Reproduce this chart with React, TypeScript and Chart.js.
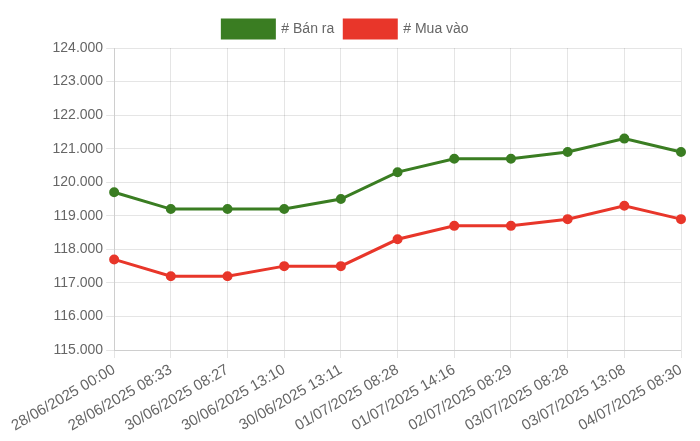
import React, { useEffect, useRef } from 'react';
import { Chart, registerables } from 'chart.js';

Chart.register(...registerables);

const labels = [
    '28/06/2025 00:00',
    '28/06/2025 08:33',
    '30/06/2025 08:27',
    '30/06/2025 13:10',
    '30/06/2025 13:11',
    '01/07/2025 08:28',
    '01/07/2025 14:16',
    '02/07/2025 08:29',
    '03/07/2025 08:28',
    '03/07/2025 13:08',
    '04/07/2025 08:30',
];

const banRa = [119700, 119200, 119200, 119200, 119500, 120300, 120700, 120700, 120900, 121300, 120900];
const muaVao = [117700, 117200, 117200, 117500, 117500, 118300, 118700, 118700, 118900, 119300, 118900];

const GREEN = '#3a7d22';
const RED = '#e8362a';

function App() {
    const chartRef = useRef<HTMLCanvasElement | null>(null);
    const chartInstance = useRef<Chart | null>(null);

    useEffect(() => {
        document.body.style.margin = '0';
        if (chartRef.current) {
            if (chartInstance.current) {
                chartInstance.current.destroy();
            }
            const ctx = chartRef.current.getContext('2d');
            if (ctx) {
                Chart.defaults.font.family = '"Liberation Sans", Arial, sans-serif';
                Chart.defaults.font.size = 14;
                Chart.defaults.color = '#666';
                chartInstance.current = new Chart(ctx, {
                    type: 'line',
                    data: {
                        labels,
                        datasets: [
                            {
                                label: '# Bán ra',
                                data: banRa,
                                borderColor: GREEN,
                                backgroundColor: GREEN,
                                borderWidth: 3,
                                pointRadius: 3.5,
                                tension: 0,
                            },
                            {
                                label: '# Mua vào',
                                data: muaVao,
                                borderColor: RED,
                                backgroundColor: RED,
                                borderWidth: 3,
                                pointRadius: 3.5,
                                tension: 0,
                            },
                        ],
                    },
                    options: {
                        animation: false,
                        responsive: true,
                        maintainAspectRatio: false,
                        layout: { padding: { top: 10, right: 19, left: 0, bottom: 3 } },
                        plugins: {
                            legend: {
                                labels: { boxWidth: 52, boxHeight: 18 },
                            },
                        },
                        scales: {
                            y: {
                                min: 115000,
                                max: 124000,
                                ticks: {
                                    stepSize: 1000,
                                    callback: (v) => Number(v).toLocaleString('de-DE'),
                                },
                            },
                            x: {
                                ticks: { minRotation: 30, maxRotation: 30, font: { size: 15 } },
                            },
                        },
                    },
                });
            }
        }

        return () => {
            if (chartInstance.current) {
                chartInstance.current.destroy();
                chartInstance.current = null;
            }
        };
    }, []);

    return (
        <div style={{ width: 700, height: 441, paddingLeft: 10, boxSizing: 'border-box' }}>
            <div style={{ width: 690, height: 441, position: 'relative' }}>
                <canvas ref={chartRef} />
            </div>
        </div>
    );
}

export default App;
